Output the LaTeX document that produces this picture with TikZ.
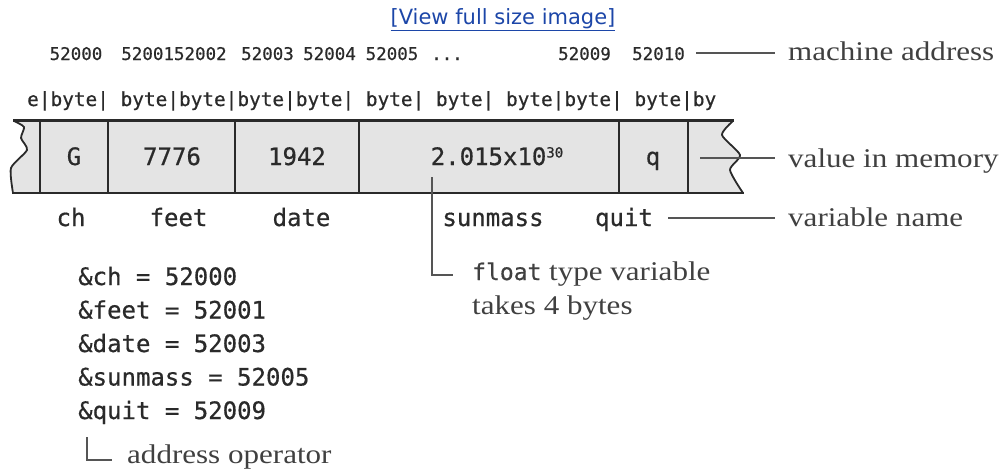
\documentclass[tikz,border=0pt]{standalone}
\usepackage{fontspec}
\usetikzlibrary{positioning}
\newfontfamily\codefont[FakeBold=0.6]{DejaVu Sans Mono}
\newfontfamily\notefont[FakeStretch=1.15]{Liberation Serif}
\newfontfamily\linkfont{DejaVu Sans}
\definecolor{cellgray}{HTML}{E4E4E4}
\definecolor{inkgray}{HTML}{2A2A2A}
\definecolor{leadgray}{HTML}{555555}
\definecolor{linkblue}{HTML}{1C46A8}

\tikzset{
  addr/.style={font=\codefont\fontsize{17.5}{20}\selectfont, text=inkgray, inner sep=0pt, anchor=base},
  code/.style={font=\codefont\fontsize{24}{28}\selectfont, text=inkgray, inner sep=0pt, anchor=base},
  note/.style={font=\notefont\fontsize{27}{30}\selectfont, text=black!75, inner sep=0pt, anchor=base west},
  leader/.style={leadgray, line width=1.2pt},
  divider/.style={inkgray, line width=2.2pt},
}

\begin{document}
\begin{tikzpicture}[x=1pt,y=-1pt]
\useasboundingbox (0,0) rectangle (1004,471);
% link above the picture
\node[font=\linkfont\fontsize{21}{24}\selectfont, text=linkblue, inner sep=0pt] (link) at (503,20) {\underline{[View full size image]}};

% machine addresses
\foreach \x/\t/\n in {76/52000/a0, 174/5200152002/a1, 267.5/52003/a3, 329.5/52004/a4, 392/52005/a5, 584.5/52009/a9, 658.5/52010/a10}
  \node[addr] (\n) at (\x,60) {\t};
\node[addr] (dots) at (447,60) {.{}.{}.};
\node[note] (machine) at (788,60) {machine address};
\draw[leader] ([xshift=11pt]a10.east |- 0,53) coordinate (m0) -- ([xshift=-13pt]m0 -| machine.west);

% byte row
\node[font=\codefont\fontsize{19.4}{22}\selectfont, text=inkgray, inner sep=0pt, anchor=base west] (bytes) at (27,106)
  {e|byte| byte|byte|byte|byte| byte| byte| byte|byte| byte|by};

% memory strip
\fill[cellgray] plot[smooth, tension=0.4] coordinates {(13,193) (11,168) (27,150) (21,138) (24,127) (14,121)}
  -- plot[smooth, tension=0.4] coordinates {(733,121) (722,135) (740,155) (730,170) (743,193)} -- cycle;
\draw[inkgray, line width=1.8pt, line join=round] plot[smooth, tension=0.4] coordinates {(13,193) (11,168) (27,150) (21,138) (24,127) (14,121)};
\draw[inkgray, line width=1.8pt, line join=round] plot[smooth, tension=0.4] coordinates {(733,121) (722,135) (740,155) (730,170) (743,193)};
\draw[inkgray, line width=2.6pt] (13,120.5) -- (734,120.5);
\draw[inkgray, line width=2.6pt] (12,193) -- (744,193);
\foreach \x in {40,108,235,359,619,688}
  \draw[divider] (\x,120) -- (\x,193);

% values and names
\foreach \x/\v/\n in {74/G/ch, 172/7776/feet, 297/1942/date, 497/{2.015x10\raisebox{7.5pt}{\fontsize{14}{14}\selectfont 30}}/sunmass, 653/q/quit}
  \node[code] (val-\n) at (\x,165) {\v};
\foreach \x/\n in {71/ch, 178.5/feet, 301.5/date, 493/sunmass, 624/quit}
  \node[code] (name-\n) at (\x,226) {\n};

\node[note] (value) at (788,167) {value in memory};
\node[note] (varname) at (788,226) {variable name};
\coordinate (memtip) at (700,158);
\draw[leader] (memtip) -- ([xshift=-13pt]memtip -| value.west);
\draw[leader] ([xshift=15pt]name-quit.east |- 0,218) coordinate (q0) -- ([xshift=-13pt]q0 -| varname.west);

% float note
\node[note] (float1) at (472,280) {{\codefont\fontsize{23}{26}\selectfont float} type variable};
\node[note] (float2) at (472,314) {takes 4 bytes};
\coordinate (floattop) at (432,177);
\draw[leader] (floattop) |- ([xshift=-19pt]float1.west |- 0,275);

% address list
\foreach \y/\t [count=\i] in {285/ch = 52000, 318.5/feet = 52001, 352/date = 52003, 385.5/sunmass = 52005, 419/quit = 52009}
  \node[code, anchor=base west] (amp\i) at (78,\y) {\&\t};
\node[note] (addrop) at (127,463) {address operator};
\coordinate (optop) at (87,437);
\draw[leader] (optop) |- ([xshift=-15pt]addrop.west |- 0,460);
\end{tikzpicture}
\end{document}
